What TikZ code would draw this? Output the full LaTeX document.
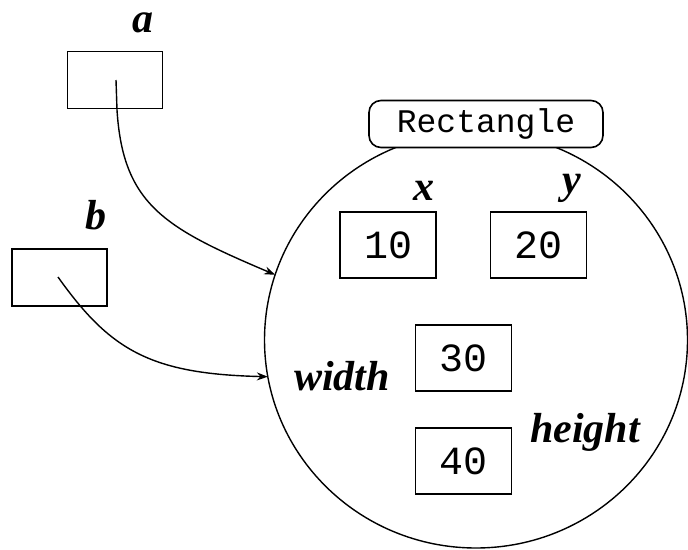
\documentclass[tikz,border=0pt]{standalone}
\usepackage{fontspec}
\usetikzlibrary{shapes.geometric,arrows.meta}
\newfontfamily\labfont{Liberation Serif}
\newfontfamily\monofont{Liberation Mono}
\tikzset{
  varbox/.style={draw, line width=1.6pt, inner sep=0pt, minimum width=95pt, minimum height=57pt},
  valbox/.style={draw, line width=1.6pt, inner sep=0pt, minimum width=96pt, minimum height=66pt,
                 font=\monofont\fontsize{40}{40}\selectfont},
  varlabel/.style={inner sep=0pt, font=\labfont\bfseries\itshape\fontsize{42}{42}\selectfont},
  ptr/.style={line width=1.4pt, -{Stealth[length=11pt,width=8pt]}}
}
\begin{document}
\begin{tikzpicture}[x=1pt,y=-1pt]
\useasboundingbox (0,0) rectangle (688,549);
% object circle
\node[ellipse, draw, line width=1.4pt, minimum width=423pt, minimum height=416pt, inner sep=0pt, outer sep=0pt] (obj) at (476,340) {};
\node[draw, fill=white, rounded corners=12pt, line width=1.6pt, minimum width=234pt, minimum height=47pt, inner sep=0pt,
      font=\monofont\fontsize{33}{33}\selectfont] (cls) at (486,124) {Rectangle};
% variables a and b
\node[varbox] (boxa) at (115,80) {};
\node[varlabel] (laba) at (143,23) {a};
\node[varbox] (boxb) at (59.5,277.5) {};
\node[varlabel] (labb) at (96,215) {b};
\coordinate (pa) at (116,80);
\coordinate (pb) at (58,277);
% fields
\node[valbox] (fx) at (388,245) {10};
\node[valbox] (fy) at (538.5,245) {20};
\node[valbox] (fw) at (463.5,358) {30};
\node[valbox] (fh) at (463.5,461) {40};
\node[varlabel] (lx) at (424,191) {x};
\node[varlabel] (ly) at (572,188) {y};
\node[varlabel] (lw) at (342,376) {width};
\node[varlabel] (lh) at (585,432) {height};
% pointers
\draw[ptr] (pa) -- (117,110) .. controls (123,205) and (165,228) .. (obj.162.5);
\draw[ptr] (pb) .. controls (110,350) and (150,374) .. (obj.190);
\end{tikzpicture}
\end{document}
